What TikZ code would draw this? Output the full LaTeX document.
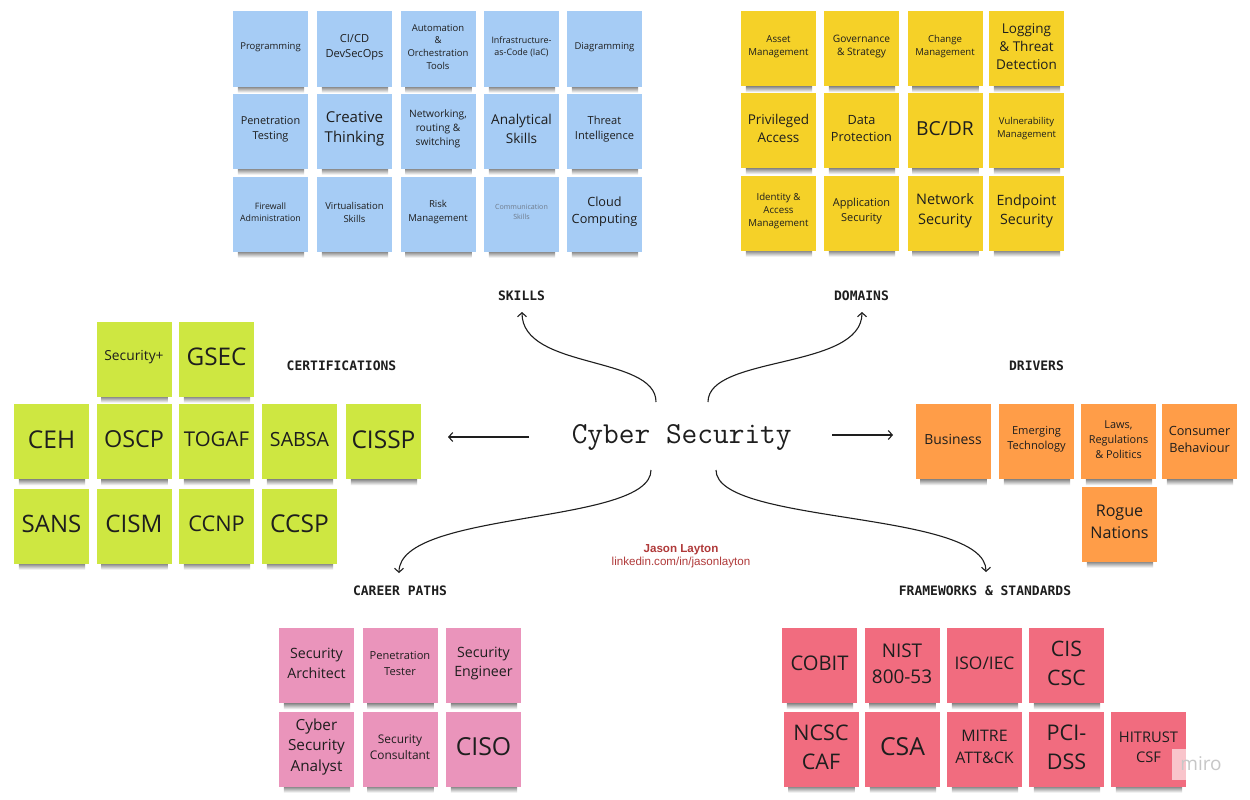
\documentclass[tikz,border=0pt]{standalone}
\usepackage{fontspec}
\usetikzlibrary{arrows.meta}
\newfontfamily\notefont{Open Sans}
\newfontfamily\labelfont{DejaVu Sans Mono}
\newfontfamily\authorfont{Liberation Sans}
\definecolor{ink}{HTML}{1E1E1E}
\definecolor{nblue}{HTML}{A6CCF5}
\definecolor{nyellow}{HTML}{F5D128}
\definecolor{ngreen}{HTML}{CEE741}
\definecolor{norange}{HTML}{FF9D48}
\definecolor{npink}{HTML}{EA94BB}
\definecolor{nred}{HTML}{F16C7F}
\definecolor{authorred}{HTML}{B03A3A}
\definecolor{commgray}{HTML}{6E7A8A}
\pgfdeclarelayer{background}
\pgfsetlayers{background,main}
\tikzset{
  note/.style={rectangle, minimum width=75pt, minimum height=75pt, inner sep=0pt, draw=none},
  notetext/.style={align=center, text=ink, inner sep=0pt},
  seclabel/.style={font=\labelfont\bfseries\fontsize{13pt}{15pt}\selectfont, text=ink, inner sep=0pt},
  conn/.style={line width=1.1pt, draw=ink, -{Straight Barb[length=4pt,width=9pt]}},
}
\newcommand\sticky[6]{%
  \node[note, fill=#4] (#1) at (#2,#3) {};
  \node[notetext, font={\notefont\fontsize{#5pt}{\dimexpr #5pt*136/100\relax}\selectfont}] (#1t) at ([yshift=2pt]#1.center) {#6};
  \begin{pgfonlayer}{background}
    \shade[top color=black!55, bottom color=white]
      ([xshift=5pt,yshift=1pt]#1.south west) rectangle ([xshift=-4pt,yshift=-6pt]#1.south east);
  \end{pgfonlayer}}
\begin{document}
\begin{tikzpicture}[x=1pt,y=-1pt]
\begin{pgfonlayer}{background}
  \fill[white] (0,0) rectangle (1250,800);
\end{pgfonlayer}
\useasboundingbox (0,0) rectangle (1250,800);

% ---------- SKILLS (blue)
\sticky{b11}{270.5}{49}{nblue}{9.5}{Programming}
\sticky{b12}{354.5}{49}{nblue}{11.1}{CI/CD\\DevSecOps}
\sticky{b13}{438}{49}{nblue}{9.5}{Automation\\\&\\Orchestration\\Tools}
\sticky{b14}{521.5}{49}{nblue}{8.9}{Infrastructure-\\as-Code (IaC)}
\sticky{b15}{604.5}{49}{nblue}{9.5}{Diagramming}
\sticky{b21}{270.5}{131}{nblue}{10.9}{Penetration\\Testing}
\sticky{b22}{354.5}{131}{nblue}{15}{Creative\\Thinking}
\sticky{b23}{438}{131}{nblue}{10.2}{Networking,\\routing \&\\switching}
\sticky{b24}{521.5}{131}{nblue}{13.6}{Analytical\\Skills}
\sticky{b25}{604.5}{131}{nblue}{11.1}{Threat\\Intelligence}
\sticky{b31}{270.5}{214}{nblue}{8.8}{Firewall\\Administration}
\sticky{b32}{354.5}{214}{nblue}{9.5}{Virtualisation\\Skills}
\sticky{b33}{438}{214}{nblue}{9.6}{Risk\\Management}
\sticky{b34}{521.5}{214}{nblue}{7.1}{\color{commgray}Communication\\\color{commgray}Skills}
\sticky{b35}{604.5}{214}{nblue}{12.7}{Cloud\\Computing}

% ---------- DOMAINS (yellow)
\sticky{y11}{778.5}{48.5}{nyellow}{9.7}{Asset\\Management}
\sticky{y12}{861.5}{48.5}{nyellow}{10.2}{Governance\\\& Strategy}
\sticky{y13}{945}{48.5}{nyellow}{9.6}{Change\\Management}
\sticky{y14}{1026.5}{48.5}{nyellow}{13.5}{Logging\\\& Threat\\Detection}
\sticky{y21}{778.5}{130.5}{nyellow}{13.5}{Privileged\\Access}
\sticky{y22}{861.5}{130.5}{nyellow}{12.7}{Data\\Protection}
\sticky{y23}{945}{130.5}{nyellow}{19.3}{BC/DR}
\sticky{y24}{1026.5}{130.5}{nyellow}{9.5}{Vulnerability\\Management}
\sticky{y31}{778.5}{213}{nyellow}{9.7}{Identity \&\\Access\\Management}
\sticky{y32}{861.5}{213}{nyellow}{11}{Application\\Security}
\sticky{y33}{945}{213}{nyellow}{14.5}{Network\\Security}
\sticky{y34}{1026.5}{213}{nyellow}{14.2}{Endpoint\\Security}

% ---------- CERTIFICATIONS (green)
\sticky{g12}{134}{359}{ngreen}{13.8}{Security+}
\sticky{g13}{216.5}{359}{ngreen}{24.3}{GSEC}
\sticky{g21}{51.5}{441.5}{ngreen}{24.5}{CEH}
\sticky{g22}{134}{441.5}{ngreen}{23.4}{OSCP}
\sticky{g23}{216.5}{441.5}{ngreen}{20.4}{TOGAF}
\sticky{g24}{299.5}{441.5}{ngreen}{19.6}{SABSA}
\sticky{g25}{383.5}{441.5}{ngreen}{24.5}{CISSP}
\sticky{g31}{51.5}{526}{ngreen}{24}{SANS}
\sticky{g32}{134}{526}{ngreen}{24.2}{CISM}
\sticky{g33}{216.5}{526}{ngreen}{21.7}{CCNP}
\sticky{g34}{299.5}{526}{ngreen}{24.5}{CCSP}

% ---------- DRIVERS (orange)
\sticky{o1}{953}{441.5}{norange}{13.9}{Business}
\sticky{o2}{1036.5}{441.5}{norange}{11.1}{Emerging\\Technology}
\sticky{o3}{1118.5}{441.5}{norange}{10.9}{Laws,\\Regulations\\\& Politics}
\sticky{o4}{1199.5}{441.5}{norange}{12.7}{Consumer\\Behaviour}
\sticky{o5}{1119.5}{524}{norange}{16.1}{Rogue\\Nations}

% ---------- CAREER PATHS (pink)
\sticky{p11}{316.5}{665.5}{npink}{14.2}{Security\\Architect}
\sticky{p12}{400}{665.5}{npink}{11.1}{Penetration\\Tester}
\sticky{p13}{483.5}{665.5}{npink}{14.2}{Security\\Engineer}
\sticky{p21}{316.5}{749}{npink}{15.3}{Cyber\\Security\\Analyst}
\sticky{p22}{400}{749}{npink}{11.9}{Security\\Consultant}
\sticky{p23}{483.5}{749}{npink}{24.8}{CISO}

% ---------- FRAMEWORKS (red)
\sticky{r11}{819.5}{665.5}{nred}{20.2}{COBIT}
\sticky{r12}{902}{665.5}{nred}{18.9}{NIST\\800-53}
\sticky{r13}{984.5}{665.5}{nred}{17.4}{ISO/IEC}
\sticky{r14}{1066.5}{665.5}{nred}{21.3}{CIS\\CSC}
\sticky{r21}{821}{749}{nred}{21.5}{NCSC\\CAF}
\sticky{r22}{902.5}{749}{nred}{24.8}{CSA}
\sticky{r23}{984.5}{749}{nred}{15.9}{MITRE\\ATT\&CK}
\sticky{r24}{1066.5}{749}{nred}{21.6}{PCI-\\DSS}
\sticky{r25}{1148.5}{749}{nred}{14.7}{HITRUST\\CSF}

% ---------- centre and labels
\node[font=\ttfamily\fontsize{30.5pt}{34pt}\selectfont, text=ink, anchor=base, inner sep=0pt] (cs) at (681.7,443.5) {Cyber Security};
\node[seclabel] (lskills) at (521.5,296) {SKILLS};
\node[seclabel] (ldomains) at (861.5,296) {DOMAINS};
\node[seclabel] (lcert) at (341.5,366) {CERTIFICATIONS};
\node[seclabel] (ldrivers) at (1036.5,366) {DRIVERS};
\node[seclabel] (lcareer) at (400,591) {CAREER PATHS};
\node[seclabel] (lframe) at (985,591) {FRAMEWORKS \& STANDARDS};

\node[font=\authorfont\bfseries\fontsize{11.6pt}{13pt}\selectfont, text=authorred, anchor=base, inner sep=0pt] (author) at (681,552.5) {Jason Layton};
\node[font=\authorfont\fontsize{11.6pt}{13pt}\selectfont, text=authorred, anchor=base, inner sep=0pt] (link) at (681,565) {linkedin.com/in/jasonlayton};

% ---------- connector end points
\coordinate (sSk) at (656,402);  \coordinate (eSk) at (522,312);
\coordinate (sDo) at (708,402);  \coordinate (eDo) at (862,312);
\coordinate (sCa) at (651,470);  \coordinate (eCa) at (399,573);
\coordinate (sFr) at (716,470);  \coordinate (eFr) at (986,572);
\coordinate (sCe) at (529,437);  \coordinate (eCe) at (448,437);
\coordinate (sDr) at (832,435);  \coordinate (eDr) at (893,435);

\draw[conn] (sSk) .. controls (656,355) and (522,370) .. (eSk);
\draw[conn] (sDo) .. controls (708,355) and (862,370) .. (eDo);
\draw[conn] (sCa) .. controls (651,525) and (399,510) .. (eCa);
\draw[conn] (sFr) .. controls (716,525) and (986,510) .. (eFr);
\draw[conn] (sCe) -- (eCe);
\draw[conn] (sDr) -- (eDr);

% ---------- watermark
\fill[white, opacity=0.6] (1172,749) rectangle (1232,780);
\node[font=\notefont\fontsize{19pt}{22pt}\selectfont, text=black!22, inner sep=0pt] (miro) at (1201,764) {miro};
\end{tikzpicture}
\end{document}
